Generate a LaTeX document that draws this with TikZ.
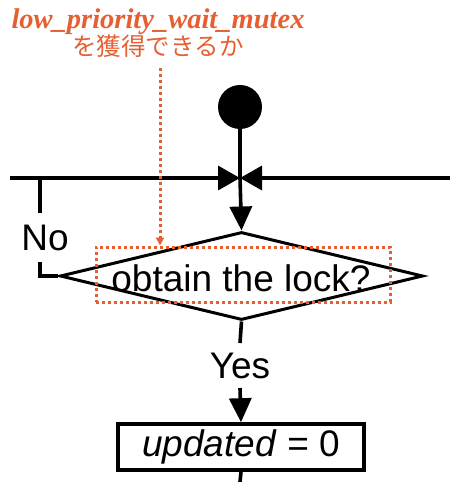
\documentclass[tikz,border=0pt]{standalone}
\usepackage{fontspec}
\setmainfont{Liberation Sans}
\newfontfamily\notefont{Liberation Serif}
\newfontfamily\jpfont{Noto Sans CJK JP}
\usetikzlibrary{shapes.geometric,arrows.meta}
\definecolor{noteor}{RGB}{230,95,50}
\begin{document}
\begin{tikzpicture}[x=1bp,y=-1bp,
  flow/.style={line width=3.6bp,draw=black},
  tipH/.style={-{Triangle[length=22bp,width=24bp]}},
  tipV/.style={-{Triangle[length=24bp,width=22bp]}},
  lbl/.style={font=\fontsize{37bp}{40bp}\selectfont,inner sep=0pt},
  hilite/.style={draw=noteor,line width=3bp,dash pattern=on 3bp off 3bp},
]
\useasboundingbox (0,0) rectangle (450,482);
% nodes
\node[circle,fill=black,minimum size=44bp,inner sep=0pt] (start) at (240,107) {};
\node[diamond,draw,line width=3bp,minimum width=363bp,minimum height=88bp,inner sep=0pt,aspect=4.1] (dec) at (241.5,276) {};
\node[lbl] (dectext) at (241,278) {obtain the lock?};
\node[hilite,minimum width=294bp,minimum height=55bp,inner sep=0pt] (hl) at (243,274.5) {};
\node[lbl,anchor=center] (no) at (45,238) {No};
\node[lbl] (yes) at (240,366) {Yes};
\node[draw,line width=3.6bp,minimum width=246bp,minimum height=46bp,inner sep=0pt,
      font=\fontsize{37bp}{40bp}\selectfont] (upd) at (241,447) {\textit{updated} = 0};
\node[text=noteor,align=center,inner sep=0pt] (note) at (158,33)
  {{\notefont\bfseries\itshape\fontsize{28.5bp}{30bp}\selectfont low\_priority\_wait\_mutex}\\[-1bp]
   {\jpfont\fontsize{24.5bp}{26bp}\selectfont を獲得できるか}};
% coordinates
\coordinate (L) at (10,178);
\coordinate (R) at (450,178);
\coordinate (J) at (240,178);
\coordinate (nb) at (40,178);
\coordinate (ns) at (160,68);
\coordinate (endp) at (240,482);
% connectors
\draw[flow,tipH] (L) -- (J);
\draw[flow,tipH] (R) -- (J);
\draw[flow] (start) -- (J);
\draw[flow,tipV] (J) -- (dec.north);
\draw[flow] (nb) -- (nb |- 0,213);
\draw[flow] (nb |- 0,262) |- (dec.west);
\draw[flow] (dec.south) -- (240,343);
\draw[flow,tipV] (240,388) -- (upd.north);
\draw[flow] (upd.south) -- (endp);
\draw[draw=noteor,line width=3bp,dash pattern=on 3bp off 3bp,-{Triangle[length=8bp,width=8bp]}] (ns) -- (ns |- hl.north);
\end{tikzpicture}
\end{document}
